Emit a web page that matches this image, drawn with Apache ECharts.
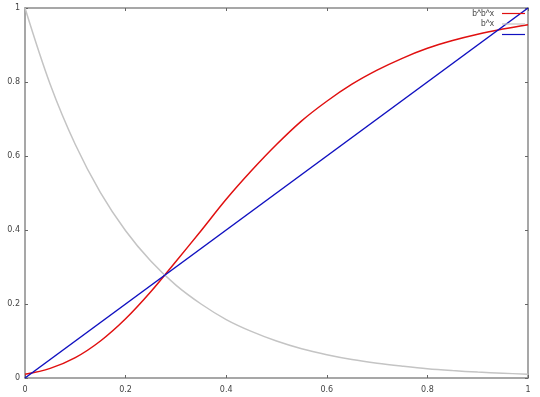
<!DOCTYPE html>
<html><head><meta charset="utf-8">
<script src="https://cdn.jsdelivr.net/npm/echarts@6/dist/echarts.min.js"></script>
<style>html,body{margin:0;padding:0;background:#fff}#c{width:540px;height:397px}</style>
</head><body><div id="c"></div>
<script>
const xs = [0,0.05,0.1,0.15,0.2,0.25,0.3,0.35,0.4,0.45,0.5,0.55,0.6,0.65,0.7,0.75,0.8,0.85,0.9,0.95,1];
const redVals = [0.010,0.026,0.055,0.100,0.160,0.233,0.315,0.398,0.483,0.560,0.631,0.695,0.748,0.794,0.832,0.864,0.891,0.912,0.929,0.943,0.955];
const grayVals = [1.000,0.794,0.631,0.501,0.398,0.316,0.251,0.200,0.158,0.126,0.100,0.079,0.063,0.050,0.040,0.032,0.025,0.020,0.016,0.013,0.010];
const blueX = [0,1];
const blueVals = [0,1];
const tickLabels = ['0','0.2','0.4','0.6','0.8','1'];
const names = ['b^b^x','b^x',' '];

const pair = (a,b)=>a.map((v,i)=>[v,b[i]]);
const chart = echarts.init(document.getElementById('c'));
const frame = {show:true,onZero:false,lineStyle:{color:'#8a8a8a',width:1.5}};
const lbl = {fontSize:8,color:'#444',fontFamily:'DejaVu Sans',formatter:v=>tickLabels[Math.round(v*5)]};
chart.setOption({
  animation:false,
  grid:{left:25,right:12,top:8,bottom:19},
  legend:{orient:'vertical',right:10,top:4,align:'right',itemGap:1.5,itemWidth:23,itemHeight:9,
    textStyle:{fontSize:8.5,color:'#444',fontFamily:'Liberation Sans',padding:[0,3,0,0]},
    data:names.map(n=>({name:n,icon:'path://M0,4L23,4L23,5.2L0,5.2Z'}))},
  xAxis:[
    {type:'value',min:0,max:1,interval:0.2,position:'bottom',axisLine:frame,splitLine:{show:false},
     axisTick:{inside:true,length:3,lineStyle:{color:'#666'}},axisLabel:Object.assign({margin:8},lbl)},
    {type:'value',min:0,max:1,interval:0.2,position:'top',axisLine:frame,splitLine:{show:false},
     axisTick:{inside:true,length:3,lineStyle:{color:'#666'}},axisLabel:{show:false}}
  ],
  yAxis:[
    {type:'value',min:0,max:1,interval:0.2,position:'left',axisLine:frame,splitLine:{show:false},
     axisTick:{inside:true,length:3,lineStyle:{color:'#666'}},axisLabel:Object.assign({margin:5},lbl)},
    {type:'value',min:0,max:1,interval:0.2,position:'right',axisLine:frame,splitLine:{show:false},
     axisTick:{inside:true,length:3,lineStyle:{color:'#666'}},axisLabel:{show:false}}
  ],
  series:[
    {name:names[0],type:'line',data:pair(xs,redVals),showSymbol:false,smooth:0.35,
     lineStyle:{color:'#e01010',width:1.5},itemStyle:{color:'#e01010'}},
    {name:names[1],type:'line',data:pair(xs,grayVals),showSymbol:false,smooth:0.35,
     lineStyle:{color:'#c4c4c4',width:1.5},itemStyle:{color:'#c4c4c4'}},
    {name:names[2],type:'line',data:pair(blueX,blueVals),showSymbol:false,
     lineStyle:{color:'#1010c0',width:1.5},itemStyle:{color:'#1010c0'}}
  ]
});
</script></body></html>
